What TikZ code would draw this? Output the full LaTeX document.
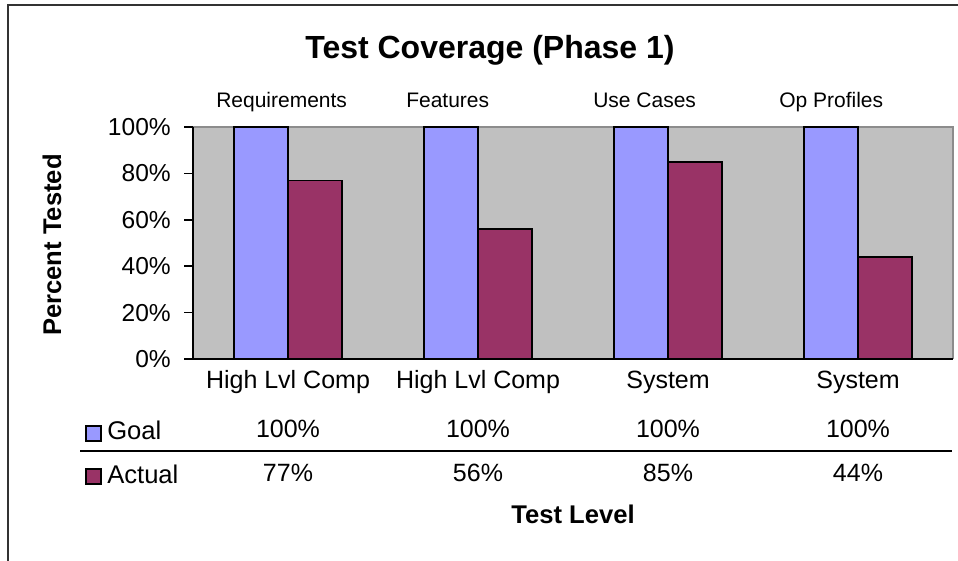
\documentclass[tikz,border=0pt]{standalone}
\usepackage{fontspec}
\setmainfont{Liberation Sans}
\definecolor{goalc}{HTML}{9999FF}
\definecolor{actc}{HTML}{993366}
\definecolor{plotbg}{HTML}{C0C0C0}
\definecolor{plotedge}{HTML}{8C8C8C}
\definecolor{framec}{HTML}{333333}
\begin{document}
\begin{tikzpicture}[x=0.75pt,y=-0.75pt,
  titlef/.style={font=\fontsize{24}{27}\selectfont\bfseries, anchor=base, inner sep=0},
  toplbl/.style={font=\fontsize{15.75}{18}\selectfont, anchor=base west, inner sep=0},
  ticklbl/.style={font=\fontsize{18.4}{20}\selectfont, anchor=east, inner sep=0},
  catlbl/.style={font=\fontsize{18.75}{21}\selectfont, anchor=base, inner sep=0},
  vallbl/.style={font=\fontsize{18.75}{21}\selectfont, anchor=base, inner sep=0},
  legtxt/.style={font=\fontsize{19.2}{21}\selectfont, anchor=base west, inner sep=0},
  axtitle/.style={font=\fontsize{19.2}{21}\selectfont\bfseries, inner sep=0},
  goalbar/.style={fill=goalc, draw=black, line width=1.1pt},
  actbar/.style={fill=actc, draw=black, line width=1.1pt},
  legbox/.style={draw=black, line width=1pt, minimum width=15*0.75pt, minimum height=15*0.75pt, inner sep=0}
]
\useasboundingbox (0,0) rectangle (958,561);
\fill[white] (0,0) rectangle (958,561);
% outer frame (cropped at right and bottom)
\draw[framec, line width=1.3pt] (8,561) -- (8,5) -- (958,5);

% plot area
\fill[plotbg] (193,127) rectangle (953,359);
\draw[plotedge, line width=1pt] (193,127) -- (953,127) -- (953,359);

% bars
\foreach \v [count=\i from 0] in {0.77,0.56,0.85,0.44} {
  \pgfmathsetmacro{\cx}{288+190*\i}
  \pgfmathsetmacro{\ytop}{359-232*\v}
  \draw[goalbar] (\cx-54,359) rectangle (\cx,127);
  \draw[actbar] (\cx,359) rectangle (\cx+54,\ytop);
}

% axes and ticks
\draw[black, line width=1.1pt] (193,127) -- (193,359) -- (953,359);
\foreach \k in {0,...,5} {
  \draw[black, line width=1.1pt] (184,359-46.4*\k) -- (193,359-46.4*\k);
}
\node[ticklbl] (t0) at (171,359) {0\%};
\node[ticklbl] (t20) at (171,312.6) {20\%};
\node[ticklbl] (t40) at (171,266.2) {40\%};
\node[ticklbl] (t60) at (171,219.8) {60\%};
\node[ticklbl] (t80) at (171,173.4) {80\%};
\node[ticklbl] (t100) at (171,127) {100\%};

% title
\node[titlef] (title) at (490,58) {Test Coverage (Phase 1)};

% top labels
\node[toplbl] (req) at (216,107) {Requirements};
\node[toplbl] (feat) at (406,107) {Features};
\node[toplbl] (uc) at (593,107) {Use Cases};
\node[toplbl] (op) at (779,107) {Op Profiles};

% y-axis title
\node[axtitle, rotate=90] (ytitle) at (52,245) {Percent Tested};

% category labels
\node[catlbl] (c1) at (288,388) {High Lvl Comp};
\node[catlbl] (c2) at (478,388) {High Lvl Comp};
\node[catlbl] (c3) at (668,388) {System};
\node[catlbl] (c4) at (858,388) {System};

% data table
\node[legbox, fill=goalc] (lgoal) at (93.5,433.5) {};
\node[legbox, fill=actc] (lact) at (93.5,476.5) {};
\node[legtxt] (goaltxt) at (107,439) {Goal};
\node[legtxt] (acttxt) at (107,483) {Actual};
\draw[black, line width=1.5pt] (80,451) -- (952,451);

\node[vallbl] (g1) at (288,437) {100\%};
\node[vallbl] (g2) at (478,437) {100\%};
\node[vallbl] (g3) at (668,437) {100\%};
\node[vallbl] (g4) at (858,437) {100\%};
\node[vallbl] (a1) at (288,481) {77\%};
\node[vallbl] (a2) at (478,481) {56\%};
\node[vallbl] (a3) at (668,481) {85\%};
\node[vallbl] (a4) at (858,481) {44\%};

% x-axis title
\node[axtitle, anchor=base] (xtitle) at (573,523) {Test Level};
\end{tikzpicture}
\end{document}
